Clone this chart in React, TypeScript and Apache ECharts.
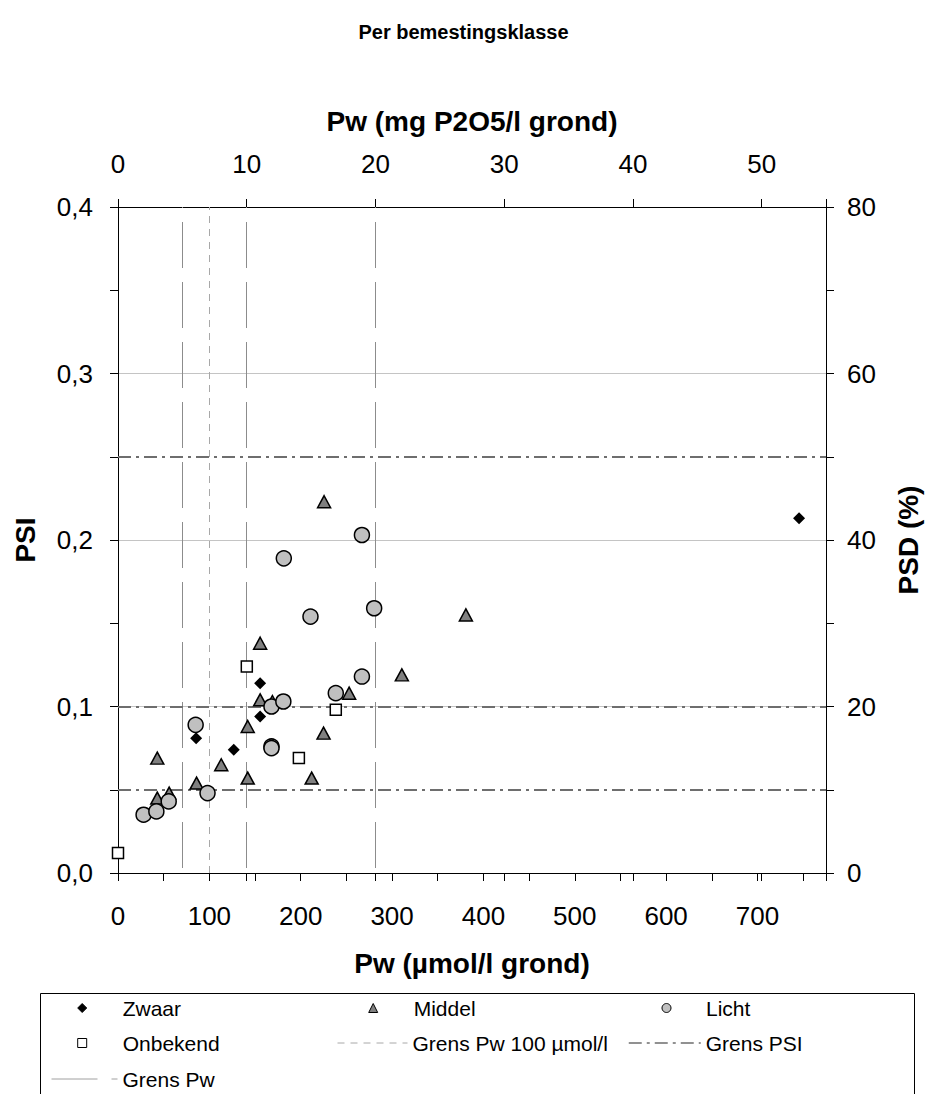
import React, { useEffect, useRef } from "react";
import * as echarts from "echarts";

const FONT = '"Liberation Sans", Arial, Helvetica, sans-serif';

// ---- data (Pw in µmol/l, PSI) ----
const zwaar: number[][] = [
  [85.5, 0.081], [126.7, 0.074], [155.6, 0.094], [155.6, 0.114], [745.5, 0.213],
];
const middel: number[][] = [
  [43, 0.069], [43, 0.045], [56, 0.048], [86, 0.054], [113, 0.065], [142, 0.088],
  [142, 0.057], [155.6, 0.104], [155.6, 0.138], [169, 0.103], [212, 0.057],
  [225, 0.084], [225.6, 0.223], [253, 0.108], [310.7, 0.119], [380.8, 0.155],
];
const licht: number[][] = [
  [28, 0.035], [42, 0.037], [55.5, 0.043], [98, 0.048], [85, 0.089], [168, 0.076],
  [168, 0.075], [168, 0.1], [181, 0.103], [238.4, 0.108], [267, 0.118],
  [181.5, 0.189], [210.7, 0.154], [267, 0.203], [280.4, 0.159],
];
const onbekend: number[][] = [
  [0, 0.012], [141, 0.124], [198, 0.069], [238.4, 0.098],
];

// reference lines
const grensPwLines = [70.4, 140.8, 281.7]; // µmol/l (5, 10, 20 mg P2O5/l)
const grensPw100Lines = [100];
const grensPsiLines = [0.05, 0.1, 0.25];

// tick labels
const pwUmolTicks = [0, 100, 200, 300, 400, 500, 600, 700];
const pwMgTicks = [0, 10, 20, 30, 40, 50];
const psiTicks = [0, 0.1, 0.2, 0.3, 0.4];
const psdTicks = [0, 20, 40, 60, 80];

const near = (arr: number[], v: number) => arr.some((t) => Math.abs(t - v) < 1e-6);

const black = "#000";

function buildOption(): any {
  const tickLabel = { fontSize: 26, color: black, fontFamily: FONT };
  const nameStyle = { fontSize: 28, fontWeight: "bold", color: black, fontFamily: FONT };

  const markerLegend = (name: string, cx: number, cy: number, padLeft: number) => ({
    data: [name],
    left: cx - 4.5,
    top: cy - 10.5,
    padding: 0,
    itemWidth: 9,
    itemHeight: 9,
    selectedMode: false,
    itemStyle: { borderWidth: 1, borderColor: black },
    textStyle: { fontSize: 21, color: black, fontFamily: FONT, padding: [0, 0, 0, padLeft] },
  });
  const lineLegend = (name: string, x: number, w: number, cy: number, ls: any) => ({
    data: [name],
    left: x,
    top: cy - 10.5,
    padding: 0,
    itemWidth: w,
    itemHeight: 9,
    selectedMode: false,
    itemStyle: { color: "transparent", borderColor: "transparent", borderWidth: 0, opacity: 0 },
    lineStyle: ls,
    textStyle: { fontSize: 21, color: black, fontFamily: FONT },
  });

  const pwStyle = { color: "#8c8c8c", width: 1, type: [46, 14], dashOffset: 55 };
  const pw100Style = { color: "#a8a8a8", width: 1, type: [7, 6] };
  const psiStyle = { color: "#6e6e6e", width: 2, type: [13, 5, 3, 5] };

  const scatter = (name: string, data: number[][], symbol: string, size: any, color: string, bw: number) => ({
    name,
    type: "scatter",
    data,
    symbol,
    symbolSize: size,
    z: 4,
    xAxisIndex: 0,
    yAxisIndex: 0,
    itemStyle: { color, borderColor: black, borderWidth: bw, opacity: 1 },
    emphasis: { disabled: true },
  });

  const refLine = (name: string, style: any, data: any[]) => ({
    name,
    type: "line",
    data: [],
    symbol: "none",
    xAxisIndex: 0,
    yAxisIndex: 0,
    lineStyle: style,
    markLine: {
      silent: true,
      z: 1,
      symbol: ["none", "none"],
      label: { show: false },
      lineStyle: style,
      emphasis: { disabled: true },
      data,
    },
  });

  return {
    animation: false,
    backgroundColor: "#fff",
    textStyle: { fontFamily: FONT },
    title: {
      text: "Per bemestingsklasse",
      left: "center",
      top: 17,
      textStyle: { fontSize: 20, fontWeight: "bold", color: black, fontFamily: FONT },
    },
    grid: { left: 118, right: 101, top: 207, bottom: 221, containLabel: false, outerBoundsMode: "none" },
    xAxis: [
      {
        type: "value",
        position: "bottom",
        min: 0,
        max: 775,
        interval: 50,
        name: "Pw (µmol/l grond)",
        nameLocation: "middle",
        nameGap: 76,
        nameTextStyle: nameStyle,
        axisLine: { show: true, onZero: false, lineStyle: { color: black, width: 1 } },
        axisTick: { show: true, length: 8, lineStyle: { color: black } },
        axisLabel: {
          ...tickLabel,
          margin: 30,
          formatter: (v: number) => (near(pwUmolTicks, v) ? String(v) : ""),
        },
        splitLine: { show: false },
      },
      {
        type: "value",
        position: "top",
        min: 0,
        max: 55,
        interval: 10,
        name: "Pw (mg P2O5/l grond)",
        nameLocation: "middle",
        nameGap: 72,
        nameTextStyle: nameStyle,
        axisLine: { show: true, onZero: false, lineStyle: { color: black, width: 1 } },
        axisTick: { show: true, length: 8, lineStyle: { color: black } },
        axisLabel: {
          ...tickLabel,
          margin: 30,
          formatter: (v: number) => (near(pwMgTicks, v) ? String(v) : ""),
        },
        splitLine: { show: false },
      },
      {
        type: "value",
        position: "top",
        min: 0,
        max: 55,
        interval: 10,
        axisLine: { show: false },
        axisTick: { show: true, inside: true, length: 8, lineStyle: { color: black } },
        axisLabel: { show: false },
        splitLine: { show: false },
      },
    ],
    yAxis: [
      {
        type: "value",
        position: "left",
        min: 0,
        max: 0.4,
        interval: 0.1,
        name: "PSI",
        nameLocation: "middle",
        nameRotate: 90,
        nameGap: 79,
        nameTextStyle: nameStyle,
        axisLine: { show: true, onZero: false, lineStyle: { color: black, width: 1 } },
        axisTick: { show: true, length: 8, lineStyle: { color: black } },
        minorTick: { show: true, splitNumber: 2, length: 8, lineStyle: { color: black } },
        axisLabel: {
          ...tickLabel,
          margin: 25,
          formatter: (v: number) => (near(psiTicks, v) ? v.toFixed(1).replace(".", ",") : ""),
        },
        splitLine: { show: true, lineStyle: { color: "#c4c4c4", width: 1 } },
      },
      {
        type: "value",
        position: "right",
        min: 0,
        max: 80,
        interval: 20,
        name: "PSD (%)",
        nameLocation: "middle",
        nameRotate: 90,
        nameGap: 68,
        nameTextStyle: nameStyle,
        axisLine: { show: true, onZero: false, lineStyle: { color: black, width: 1 } },
        axisTick: { show: true, length: 8, lineStyle: { color: black } },
        minorTick: { show: true, splitNumber: 2, length: 8, lineStyle: { color: black } },
        axisLabel: {
          ...tickLabel,
          margin: 21,
          formatter: (v: number) => (near(psdTicks, v) ? String(v) : ""),
        },
        splitLine: { show: false },
      },
    ],
    legend: [
      markerLegend("Zwaar", 81.7, 1008, 31),
      markerLegend("Middel", 372.7, 1008, 31),
      markerLegend("Licht", 666, 1008, 30),
      markerLegend("Onbekend", 81.7, 1043, 31),
      lineLegend("Grens Pw 100 µmol/l", 337, 70, 1043, pw100Style),
      lineLegend("Grens PSI", 628, 72, 1043, { ...psiStyle, width: 1.5 }),
      lineLegend("Grens Pw", 46, 71, 1079, { color: "#a0a0a0", width: 1, type: [46, 14] }),
    ],
    graphic: [
      {
        type: "rect",
        left: 38,
        top: 991,
        shape: { width: 874, height: 200 },
        style: { fill: "none", stroke: black, lineWidth: 1 },
        silent: true,
        z: 0,
      },
    ],
    series: [
      refLine("Grens Pw", pwStyle, grensPwLines.map((v) => ({ xAxis: v }))),
      refLine("Grens Pw 100 µmol/l", pw100Style, grensPw100Lines.map((v) => ({ xAxis: v }))),
      refLine("Grens PSI", psiStyle, grensPsiLines.map((v) => ({ yAxis: v }))),
      scatter("Zwaar", zwaar, "diamond", 12, black, 0),
      scatter("Middel", middel, "triangle", [13, 12], "#808080", 1.5),
      scatter("Licht", licht, "circle", 15, "#c0c0c0", 1.5),
      scatter("Onbekend", onbekend, "rect", 11, "#ffffff", 1.5),
    ],
  };
}

export default function App() {
  const ref = useRef<HTMLDivElement>(null);
  useEffect(() => {
    document.body.style.margin = "0";
    if (!ref.current) return;
    const chart = echarts.init(ref.current, null, { renderer: "svg" });
    chart.setOption(buildOption());
    return () => chart.dispose();
  }, []);
  return <div ref={ref} style={{ width: 927, height: 1094 }} />;
}
